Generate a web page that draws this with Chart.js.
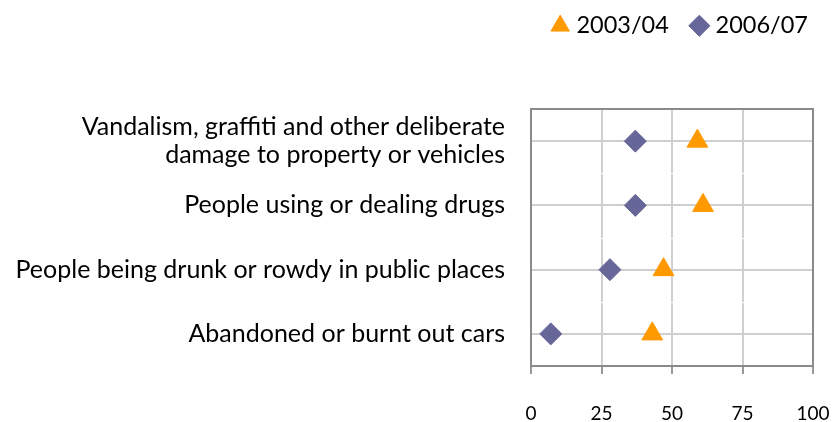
<!DOCTYPE html>
<html>
<head>
<meta charset="utf-8">
<script src="https://cdn.jsdelivr.net/npm/chart.js@4"></script>
<style>
html,body{margin:0;padding:0;background:#fff;}
#wrap{width:834px;height:422px;}
</style>
</head>
<body>
<div id="wrap"><canvas id="c" width="834" height="422"></canvas></div>
<script>
const categories = [
  ['Vandalism, graffiti and other deliberate', 'damage to property or vehicles'],
  'People using or dealing drugs',
  'People being drunk or rowdy in public places',
  'Abandoned or burnt out cars'
];
const seriesNames = ['2003/04', '2006/07'];
const values2003 = [59, 61, 47, 43];
const values2006 = [37, 37, 28, 7];
const xTicks = [0, 25, 50, 75, 100];

const FONT = 'Lato, "Gill Sans", sans-serif';

const borderPlugin = {
  id: 'plotBorder',
  beforeDatasetsDraw(chart) {
    const {ctx, chartArea: a, scales} = chart;
    ctx.save();
    ctx.strokeStyle = '#ffffff';
    ctx.lineWidth = 1;
    for (let i = 1; i < categories.length; i++) {
      const y = Math.round(scales.y.getPixelForValue(i + 0.5)) + 0.5;
      ctx.beginPath();
      ctx.moveTo(a.left, y);
      ctx.lineTo(a.right, y);
      ctx.stroke();
    }
    ctx.restore();
  },
  afterDatasetsDraw(chart) {
    const {ctx, chartArea: a} = chart;
    ctx.save();
    ctx.strokeStyle = '#8a8a8a';
    ctx.lineWidth = 2;
    ctx.strokeRect(a.left, a.top, a.right - a.left, a.bottom - a.top);
    ctx.restore();
  }
};
const legendSpace = {
  id: 'legendSpace',
  beforeInit(chart) {
    const orig = chart.legend.fit;
    chart.legend.fit = function () { orig.call(this); this.height = 121; };
  }
};

new Chart(document.getElementById('c'), {
  type: 'scatter',
  data: {
    datasets: [
      {
        label: seriesNames[0],
        data: values2003.map((v, i) => ({x: v, y: i + 1})),
        pointStyle: 'triangle',
        pointRadius: 12,
        pointHoverRadius: 12,
        backgroundColor: '#FF9900',
        borderColor: '#FF9900',
        borderWidth: 1
      },
      {
        label: seriesNames[1],
        data: values2006.map((v, i) => ({x: v, y: i + 1})),
        pointStyle: 'rectRot',
        pointRadius: 11,
        pointHoverRadius: 11,
        backgroundColor: '#666699',
        borderColor: '#666699',
        borderWidth: 1
      }
    ]
  },
  options: {
    responsive: false,
    animation: false,
    layout: {padding: {top: -12, right: 0, left: 0, bottom: 0}},
    plugins: {
      tooltip: {enabled: false},
      legend: {
        position: 'top',
        align: 'end',
        labels: {
          usePointStyle: true,
          boxWidth: 9,
          boxHeight: 15,
          padding: 26,
          color: '#000',
          font: {family: FONT, size: 23.5}
        }
      }
    },
    scales: {
      x: {
        type: 'linear',
        min: 0, max: 100,
        afterBuildTicks(s) { s.ticks = xTicks.map(v => ({value: v})); },
        afterFit(s) { s.height = 56; s.paddingLeft = 0; s.paddingRight = 21; },
        grid: {color: '#cfcfcf', lineWidth: 2, tickLength: 8, tickColor: '#999'},
        border: {display: false},
        ticks: {color: '#000', padding: 28, font: {family: FONT, size: 19}}
      },
      y: {
        type: 'linear',
        reverse: true,
        min: 0.5, max: 4.5,
        afterBuildTicks(s) { s.ticks = categories.map((c, i) => ({value: i + 1})); },
        afterFit(s) { s.width = 531; s.paddingTop = 0; s.paddingBottom = 0; },
        grid: {color: '#cfcfcf', lineWidth: 2, drawTicks: false},
        border: {display: false},
        ticks: {
          color: '#000',
          padding: 26,
          font: {family: FONT, size: 25, lineHeight: 1.12},
          callback(v) { return categories[Math.round(v) - 1]; }
        }
      }
    }
  },
  plugins: [borderPlugin, legendSpace]
});
</script>
</body>
</html>
